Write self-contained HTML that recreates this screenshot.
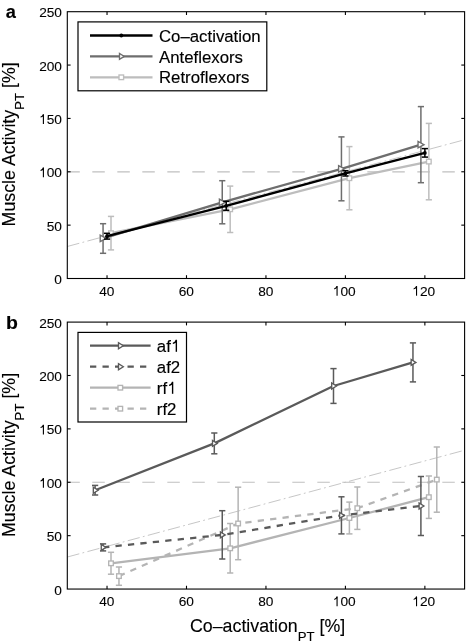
<!DOCTYPE html>
<html><head><meta charset="utf-8"><style>
html,body{margin:0;padding:0;background:#fff;width:466px;height:644px;overflow:hidden}
svg{display:block;filter:grayscale(1)}
text{font-family:"Liberation Sans", sans-serif;stroke:#000;stroke-width:0.15px}
text.t{stroke-width:0.1px}
text.al{stroke-width:0.12px}
</style></head><body>
<svg width="466" height="644" viewBox="0 0 466 644" font-family='"Liberation Sans", sans-serif' fill="#000">
<rect width="466" height="644" fill="#fff"/>
<line x1="67.30" y1="246.48" x2="464.60" y2="139.76" stroke="#c0c0c0" stroke-width="0.9" stroke-dasharray="12.4 3.3 1.8 3.34"/>
<line x1="67.30" y1="171.78" x2="464.60" y2="171.78" stroke="#c0c0c0" stroke-width="1.2" stroke-dasharray="12.5 12.5"/>
<line x1="111.00" y1="249.90" x2="111.00" y2="216.40" stroke="#bdbdbd" stroke-width="1.5" />
<line x1="107.90" y1="249.90" x2="114.10" y2="249.90" stroke="#bdbdbd" stroke-width="1.5" />
<line x1="107.90" y1="216.40" x2="114.10" y2="216.40" stroke="#bdbdbd" stroke-width="1.5" />
<line x1="230.19" y1="232.50" x2="230.19" y2="186.10" stroke="#bdbdbd" stroke-width="1.5" />
<line x1="227.09" y1="232.50" x2="233.29" y2="232.50" stroke="#bdbdbd" stroke-width="1.5" />
<line x1="227.09" y1="186.10" x2="233.29" y2="186.10" stroke="#bdbdbd" stroke-width="1.5" />
<line x1="349.38" y1="209.80" x2="349.38" y2="146.60" stroke="#bdbdbd" stroke-width="1.5" />
<line x1="346.28" y1="209.80" x2="352.48" y2="209.80" stroke="#bdbdbd" stroke-width="1.5" />
<line x1="346.28" y1="146.60" x2="352.48" y2="146.60" stroke="#bdbdbd" stroke-width="1.5" />
<line x1="428.84" y1="199.80" x2="428.84" y2="123.40" stroke="#bdbdbd" stroke-width="1.5" />
<line x1="425.74" y1="199.80" x2="431.94" y2="199.80" stroke="#bdbdbd" stroke-width="1.5" />
<line x1="425.74" y1="123.40" x2="431.94" y2="123.40" stroke="#bdbdbd" stroke-width="1.5" />
<polyline points="111.00,233.20 230.19,209.30 349.38,178.20 428.84,161.60" fill="none" stroke="#bdbdbd" stroke-width="2.3" stroke-linejoin="round" />
<rect x="108.70" y="230.90" width="4.60" height="4.60" fill="#fff" stroke="#bdbdbd" stroke-width="1.35"/>
<rect x="227.89" y="207.00" width="4.60" height="4.60" fill="#fff" stroke="#bdbdbd" stroke-width="1.35"/>
<rect x="347.08" y="175.90" width="4.60" height="4.60" fill="#fff" stroke="#bdbdbd" stroke-width="1.35"/>
<rect x="426.54" y="159.30" width="4.60" height="4.60" fill="#fff" stroke="#bdbdbd" stroke-width="1.35"/>
<line x1="103.06" y1="253.30" x2="103.06" y2="223.70" stroke="#6e6e6e" stroke-width="1.5" />
<line x1="99.96" y1="253.30" x2="106.16" y2="253.30" stroke="#6e6e6e" stroke-width="1.5" />
<line x1="99.96" y1="223.70" x2="106.16" y2="223.70" stroke="#6e6e6e" stroke-width="1.5" />
<line x1="222.25" y1="223.80" x2="222.25" y2="180.70" stroke="#6e6e6e" stroke-width="1.5" />
<line x1="219.15" y1="223.80" x2="225.35" y2="223.80" stroke="#6e6e6e" stroke-width="1.5" />
<line x1="219.15" y1="180.70" x2="225.35" y2="180.70" stroke="#6e6e6e" stroke-width="1.5" />
<line x1="341.44" y1="200.80" x2="341.44" y2="136.90" stroke="#6e6e6e" stroke-width="1.5" />
<line x1="338.34" y1="200.80" x2="344.54" y2="200.80" stroke="#6e6e6e" stroke-width="1.5" />
<line x1="338.34" y1="136.90" x2="344.54" y2="136.90" stroke="#6e6e6e" stroke-width="1.5" />
<line x1="420.90" y1="182.70" x2="420.90" y2="106.60" stroke="#6e6e6e" stroke-width="1.5" />
<line x1="417.80" y1="182.70" x2="424.00" y2="182.70" stroke="#6e6e6e" stroke-width="1.5" />
<line x1="417.80" y1="106.60" x2="424.00" y2="106.60" stroke="#6e6e6e" stroke-width="1.5" />
<polyline points="103.06,238.40 222.25,202.30 341.44,168.80 420.90,144.70" fill="none" stroke="#6e6e6e" stroke-width="2.3" stroke-linejoin="round" />
<polygon points="100.21,235.20 100.21,241.60 106.16,238.40" fill="#fff" stroke="#6e6e6e" stroke-width="1.35" stroke-linejoin="miter"/>
<polygon points="219.40,199.10 219.40,205.50 225.35,202.30" fill="#fff" stroke="#6e6e6e" stroke-width="1.35" stroke-linejoin="miter"/>
<polygon points="338.59,165.60 338.59,172.00 344.54,168.80" fill="#fff" stroke="#6e6e6e" stroke-width="1.35" stroke-linejoin="miter"/>
<polygon points="418.05,141.50 418.05,147.90 424.00,144.70" fill="#fff" stroke="#6e6e6e" stroke-width="1.35" stroke-linejoin="miter"/>
<line x1="107.03" y1="239.10" x2="107.03" y2="233.30" stroke="#000" stroke-width="1.5" />
<line x1="103.93" y1="239.10" x2="110.13" y2="239.10" stroke="#000" stroke-width="1.5" />
<line x1="103.93" y1="233.30" x2="110.13" y2="233.30" stroke="#000" stroke-width="1.5" />
<line x1="226.22" y1="210.30" x2="226.22" y2="201.30" stroke="#000" stroke-width="1.5" />
<line x1="223.12" y1="210.30" x2="229.32" y2="210.30" stroke="#000" stroke-width="1.5" />
<line x1="223.12" y1="201.30" x2="229.32" y2="201.30" stroke="#000" stroke-width="1.5" />
<line x1="345.41" y1="176.00" x2="345.41" y2="170.70" stroke="#000" stroke-width="1.5" />
<line x1="342.31" y1="176.00" x2="348.51" y2="176.00" stroke="#000" stroke-width="1.5" />
<line x1="342.31" y1="170.70" x2="348.51" y2="170.70" stroke="#000" stroke-width="1.5" />
<line x1="424.87" y1="157.10" x2="424.87" y2="148.60" stroke="#000" stroke-width="1.5" />
<line x1="421.77" y1="157.10" x2="427.97" y2="157.10" stroke="#000" stroke-width="1.5" />
<line x1="421.77" y1="148.60" x2="427.97" y2="148.60" stroke="#000" stroke-width="1.5" />
<polyline points="107.03,236.20 226.22,205.80 345.41,173.40 424.87,152.90" fill="none" stroke="#000" stroke-width="2.3" stroke-linejoin="round" />
<circle cx="107.03" cy="236.20" r="1.9" fill="#000"/>
<circle cx="226.22" cy="205.80" r="1.9" fill="#000"/>
<circle cx="345.41" cy="173.40" r="1.9" fill="#000"/>
<circle cx="424.87" cy="152.90" r="1.9" fill="#000"/>
<rect x="67.30" y="11.70" width="397.30" height="266.80" fill="none" stroke="#000" stroke-width="1.1"/>
<line x1="107.03" y1="278.50" x2="107.03" y2="275.20" stroke="#000" stroke-width="1.1" />
<line x1="107.03" y1="11.70" x2="107.03" y2="15.00" stroke="#000" stroke-width="1.1" />
<text x="99.23" y="295.70" font-size="13.7" class="t">4</text>
<text x="106.73" y="295.70" font-size="13.7" class="t">0</text>
<line x1="186.49" y1="278.50" x2="186.49" y2="275.20" stroke="#000" stroke-width="1.1" />
<line x1="186.49" y1="11.70" x2="186.49" y2="15.00" stroke="#000" stroke-width="1.1" />
<text x="178.69" y="295.70" font-size="13.7" class="t">6</text>
<text x="186.19" y="295.70" font-size="13.7" class="t">0</text>
<line x1="265.95" y1="278.50" x2="265.95" y2="275.20" stroke="#000" stroke-width="1.1" />
<line x1="265.95" y1="11.70" x2="265.95" y2="15.00" stroke="#000" stroke-width="1.1" />
<text x="258.15" y="295.70" font-size="13.7" class="t">8</text>
<text x="265.65" y="295.70" font-size="13.7" class="t">0</text>
<line x1="345.41" y1="278.50" x2="345.41" y2="275.20" stroke="#000" stroke-width="1.1" />
<line x1="345.41" y1="11.70" x2="345.41" y2="15.00" stroke="#000" stroke-width="1.1" />
<path d="M337.07,295.70 L337.07,286.22" stroke="#000" stroke-width="1.12" fill="none"/>
<path d="M337.58,285.95 L336.51,285.95 C336.39,287.18 335.02,288.10 334.19,288.37 L334.19,289.40 C335.29,289.19 336.66,288.37 337.07,287.82 Z" fill="#000"/>
<text x="340.46" y="295.70" font-size="13.7" class="t">0</text>
<text x="347.96" y="295.70" font-size="13.7" class="t">0</text>
<line x1="424.87" y1="278.50" x2="424.87" y2="275.20" stroke="#000" stroke-width="1.1" />
<line x1="424.87" y1="11.70" x2="424.87" y2="15.00" stroke="#000" stroke-width="1.1" />
<path d="M416.53,295.70 L416.53,286.22" stroke="#000" stroke-width="1.12" fill="none"/>
<path d="M417.04,285.95 L415.97,285.95 C415.85,287.18 414.48,288.10 413.65,288.37 L413.65,289.40 C414.75,289.19 416.12,288.37 416.53,287.82 Z" fill="#000"/>
<text x="419.92" y="295.70" font-size="13.7" class="t">2</text>
<text x="427.42" y="295.70" font-size="13.7" class="t">0</text>
<text x="54.30" y="284.00" font-size="13.7" class="t">0</text>
<line x1="67.30" y1="225.14" x2="70.60" y2="225.14" stroke="#000" stroke-width="1.1" />
<line x1="464.60" y1="225.14" x2="461.30" y2="225.14" stroke="#000" stroke-width="1.1" />
<text x="46.80" y="230.64" font-size="13.7" class="t">5</text>
<text x="54.30" y="230.64" font-size="13.7" class="t">0</text>
<line x1="67.30" y1="171.78" x2="70.60" y2="171.78" stroke="#000" stroke-width="1.1" />
<line x1="464.60" y1="171.78" x2="461.30" y2="171.78" stroke="#000" stroke-width="1.1" />
<path d="M43.41,177.28 L43.41,167.80" stroke="#000" stroke-width="1.12" fill="none"/>
<path d="M43.92,167.53 L42.85,167.53 C42.72,168.76 41.35,169.68 40.53,169.95 L40.53,170.98 C41.63,170.77 43.00,169.95 43.41,169.40 Z" fill="#000"/>
<text x="46.80" y="177.28" font-size="13.7" class="t">0</text>
<text x="54.30" y="177.28" font-size="13.7" class="t">0</text>
<line x1="67.30" y1="118.42" x2="70.60" y2="118.42" stroke="#000" stroke-width="1.1" />
<line x1="464.60" y1="118.42" x2="461.30" y2="118.42" stroke="#000" stroke-width="1.1" />
<path d="M43.41,123.92 L43.41,114.44" stroke="#000" stroke-width="1.12" fill="none"/>
<path d="M43.92,114.17 L42.85,114.17 C42.72,115.40 41.35,116.32 40.53,116.59 L40.53,117.62 C41.63,117.41 43.00,116.59 43.41,116.04 Z" fill="#000"/>
<text x="46.80" y="123.92" font-size="13.7" class="t">5</text>
<text x="54.30" y="123.92" font-size="13.7" class="t">0</text>
<line x1="67.30" y1="65.06" x2="70.60" y2="65.06" stroke="#000" stroke-width="1.1" />
<line x1="464.60" y1="65.06" x2="461.30" y2="65.06" stroke="#000" stroke-width="1.1" />
<text x="39.30" y="70.56" font-size="13.7" class="t">2</text>
<text x="46.80" y="70.56" font-size="13.7" class="t">0</text>
<text x="54.30" y="70.56" font-size="13.7" class="t">0</text>
<text x="39.30" y="17.20" font-size="13.7" class="t">2</text>
<text x="46.80" y="17.20" font-size="13.7" class="t">5</text>
<text x="54.30" y="17.20" font-size="13.7" class="t">0</text>
<rect x="78.0" y="21.9" width="188.80" height="68.90" fill="#fff" stroke="#000" stroke-width="1.2"/>
<line x1="90.00" y1="35.50" x2="152.50" y2="35.50" stroke="#000" stroke-width="2.3" />
<circle cx="121.30" cy="35.50" r="1.9" fill="#000"/>
<text x="159.00" y="41.60" font-size="16.8" text-anchor="start" >Co–activation</text>
<line x1="90.00" y1="56.40" x2="152.50" y2="56.40" stroke="#6e6e6e" stroke-width="2.3" />
<polygon points="119.50,53.40 119.50,59.40 124.30,56.40" fill="#fff" stroke="#6e6e6e" stroke-width="1.35" stroke-linejoin="miter"/>
<text x="159.00" y="62.50" font-size="16.8" text-anchor="start" >Anteflexors</text>
<line x1="90.00" y1="77.30" x2="152.50" y2="77.30" stroke="#bdbdbd" stroke-width="2.3" />
<rect x="119.00" y="75.00" width="4.60" height="4.60" fill="#fff" stroke="#bdbdbd" stroke-width="1.35"/>
<text x="159.00" y="83.40" font-size="16.8" text-anchor="start" >Retroflexors</text>
<line x1="67.30" y1="557.02" x2="464.60" y2="450.24" stroke="#c0c0c0" stroke-width="0.9" stroke-dasharray="12.4 3.3 1.8 3.34"/>
<line x1="67.30" y1="482.27" x2="464.60" y2="482.27" stroke="#c0c0c0" stroke-width="1.2" stroke-dasharray="12.5 12.5"/>
<line x1="118.95" y1="585.30" x2="118.95" y2="567.00" stroke="#b4b4b4" stroke-width="1.5" />
<line x1="115.85" y1="585.30" x2="122.05" y2="585.30" stroke="#b4b4b4" stroke-width="1.5" />
<line x1="115.85" y1="567.00" x2="122.05" y2="567.00" stroke="#b4b4b4" stroke-width="1.5" />
<line x1="238.14" y1="559.70" x2="238.14" y2="487.20" stroke="#b4b4b4" stroke-width="1.5" />
<line x1="235.04" y1="559.70" x2="241.24" y2="559.70" stroke="#b4b4b4" stroke-width="1.5" />
<line x1="235.04" y1="487.20" x2="241.24" y2="487.20" stroke="#b4b4b4" stroke-width="1.5" />
<line x1="357.33" y1="529.40" x2="357.33" y2="487.00" stroke="#b4b4b4" stroke-width="1.5" />
<line x1="354.23" y1="529.40" x2="360.43" y2="529.40" stroke="#b4b4b4" stroke-width="1.5" />
<line x1="354.23" y1="487.00" x2="360.43" y2="487.00" stroke="#b4b4b4" stroke-width="1.5" />
<line x1="436.79" y1="512.20" x2="436.79" y2="447.00" stroke="#b4b4b4" stroke-width="1.5" />
<line x1="433.69" y1="512.20" x2="439.89" y2="512.20" stroke="#b4b4b4" stroke-width="1.5" />
<line x1="433.69" y1="447.00" x2="439.89" y2="447.00" stroke="#b4b4b4" stroke-width="1.5" />
<polyline points="118.95,576.10 238.14,523.50 357.33,508.20 436.79,479.60" fill="none" stroke="#b4b4b4" stroke-width="2.3" stroke-linejoin="round" stroke-dasharray="6.3 6.2"/>
<rect x="116.65" y="573.80" width="4.60" height="4.60" fill="#fff" stroke="#b4b4b4" stroke-width="1.35"/>
<rect x="235.84" y="521.20" width="4.60" height="4.60" fill="#fff" stroke="#b4b4b4" stroke-width="1.35"/>
<rect x="355.03" y="505.90" width="4.60" height="4.60" fill="#fff" stroke="#b4b4b4" stroke-width="1.35"/>
<rect x="434.49" y="477.30" width="4.60" height="4.60" fill="#fff" stroke="#b4b4b4" stroke-width="1.35"/>
<line x1="111.00" y1="574.20" x2="111.00" y2="552.30" stroke="#b4b4b4" stroke-width="1.5" />
<line x1="107.90" y1="574.20" x2="114.10" y2="574.20" stroke="#b4b4b4" stroke-width="1.5" />
<line x1="107.90" y1="552.30" x2="114.10" y2="552.30" stroke="#b4b4b4" stroke-width="1.5" />
<line x1="230.19" y1="573.00" x2="230.19" y2="523.50" stroke="#b4b4b4" stroke-width="1.5" />
<line x1="227.09" y1="573.00" x2="233.29" y2="573.00" stroke="#b4b4b4" stroke-width="1.5" />
<line x1="227.09" y1="523.50" x2="233.29" y2="523.50" stroke="#b4b4b4" stroke-width="1.5" />
<line x1="349.38" y1="533.90" x2="349.38" y2="502.10" stroke="#b4b4b4" stroke-width="1.5" />
<line x1="346.28" y1="533.90" x2="352.48" y2="533.90" stroke="#b4b4b4" stroke-width="1.5" />
<line x1="346.28" y1="502.10" x2="352.48" y2="502.10" stroke="#b4b4b4" stroke-width="1.5" />
<line x1="428.84" y1="518.40" x2="428.84" y2="476.00" stroke="#b4b4b4" stroke-width="1.5" />
<line x1="425.74" y1="518.40" x2="431.94" y2="518.40" stroke="#b4b4b4" stroke-width="1.5" />
<line x1="425.74" y1="476.00" x2="431.94" y2="476.00" stroke="#b4b4b4" stroke-width="1.5" />
<polyline points="111.00,563.30 230.19,548.30 349.38,518.00 428.84,497.20" fill="none" stroke="#b4b4b4" stroke-width="2.3" stroke-linejoin="round" />
<rect x="108.70" y="561.00" width="4.60" height="4.60" fill="#fff" stroke="#b4b4b4" stroke-width="1.35"/>
<rect x="227.89" y="546.00" width="4.60" height="4.60" fill="#fff" stroke="#b4b4b4" stroke-width="1.35"/>
<rect x="347.08" y="515.70" width="4.60" height="4.60" fill="#fff" stroke="#b4b4b4" stroke-width="1.35"/>
<rect x="426.54" y="494.90" width="4.60" height="4.60" fill="#fff" stroke="#b4b4b4" stroke-width="1.35"/>
<line x1="103.06" y1="550.90" x2="103.06" y2="543.90" stroke="#5a5a5a" stroke-width="1.5" />
<line x1="99.96" y1="550.90" x2="106.16" y2="550.90" stroke="#5a5a5a" stroke-width="1.5" />
<line x1="99.96" y1="543.90" x2="106.16" y2="543.90" stroke="#5a5a5a" stroke-width="1.5" />
<line x1="222.25" y1="559.00" x2="222.25" y2="510.70" stroke="#5a5a5a" stroke-width="1.5" />
<line x1="219.15" y1="559.00" x2="225.35" y2="559.00" stroke="#5a5a5a" stroke-width="1.5" />
<line x1="219.15" y1="510.70" x2="225.35" y2="510.70" stroke="#5a5a5a" stroke-width="1.5" />
<line x1="341.44" y1="533.90" x2="341.44" y2="496.80" stroke="#5a5a5a" stroke-width="1.5" />
<line x1="338.34" y1="533.90" x2="344.54" y2="533.90" stroke="#5a5a5a" stroke-width="1.5" />
<line x1="338.34" y1="496.80" x2="344.54" y2="496.80" stroke="#5a5a5a" stroke-width="1.5" />
<line x1="420.90" y1="535.50" x2="420.90" y2="476.50" stroke="#5a5a5a" stroke-width="1.5" />
<line x1="417.80" y1="535.50" x2="424.00" y2="535.50" stroke="#5a5a5a" stroke-width="1.5" />
<line x1="417.80" y1="476.50" x2="424.00" y2="476.50" stroke="#5a5a5a" stroke-width="1.5" />
<polyline points="103.06,547.40 222.25,534.90 341.44,515.40 420.90,506.00" fill="none" stroke="#5a5a5a" stroke-width="2.3" stroke-linejoin="round" stroke-dasharray="6.3 6.2"/>
<polygon points="101.26,544.40 101.26,550.40 106.06,547.40" fill="#fff" stroke="#5a5a5a" stroke-width="1.35" stroke-linejoin="miter"/>
<polygon points="220.45,531.90 220.45,537.90 225.25,534.90" fill="#fff" stroke="#5a5a5a" stroke-width="1.35" stroke-linejoin="miter"/>
<polygon points="339.64,512.40 339.64,518.40 344.44,515.40" fill="#fff" stroke="#5a5a5a" stroke-width="1.35" stroke-linejoin="miter"/>
<polygon points="419.10,503.00 419.10,509.00 423.90,506.00" fill="#fff" stroke="#5a5a5a" stroke-width="1.35" stroke-linejoin="miter"/>
<line x1="95.11" y1="495.00" x2="95.11" y2="485.40" stroke="#5a5a5a" stroke-width="1.5" />
<line x1="92.01" y1="495.00" x2="98.21" y2="495.00" stroke="#5a5a5a" stroke-width="1.5" />
<line x1="92.01" y1="485.40" x2="98.21" y2="485.40" stroke="#5a5a5a" stroke-width="1.5" />
<line x1="214.30" y1="453.80" x2="214.30" y2="433.00" stroke="#5a5a5a" stroke-width="1.5" />
<line x1="211.20" y1="453.80" x2="217.40" y2="453.80" stroke="#5a5a5a" stroke-width="1.5" />
<line x1="211.20" y1="433.00" x2="217.40" y2="433.00" stroke="#5a5a5a" stroke-width="1.5" />
<line x1="333.49" y1="403.40" x2="333.49" y2="368.60" stroke="#5a5a5a" stroke-width="1.5" />
<line x1="330.39" y1="403.40" x2="336.59" y2="403.40" stroke="#5a5a5a" stroke-width="1.5" />
<line x1="330.39" y1="368.60" x2="336.59" y2="368.60" stroke="#5a5a5a" stroke-width="1.5" />
<line x1="412.95" y1="381.90" x2="412.95" y2="342.90" stroke="#5a5a5a" stroke-width="1.5" />
<line x1="409.85" y1="381.90" x2="416.05" y2="381.90" stroke="#5a5a5a" stroke-width="1.5" />
<line x1="409.85" y1="342.90" x2="416.05" y2="342.90" stroke="#5a5a5a" stroke-width="1.5" />
<polyline points="95.11,490.20 214.30,443.40 333.49,386.00 412.95,362.40" fill="none" stroke="#5a5a5a" stroke-width="2.3" stroke-linejoin="round" />
<polygon points="93.31,487.20 93.31,493.20 98.11,490.20" fill="#fff" stroke="#5a5a5a" stroke-width="1.35" stroke-linejoin="miter"/>
<polygon points="212.50,440.40 212.50,446.40 217.30,443.40" fill="#fff" stroke="#5a5a5a" stroke-width="1.35" stroke-linejoin="miter"/>
<polygon points="331.69,383.00 331.69,389.00 336.49,386.00" fill="#fff" stroke="#5a5a5a" stroke-width="1.35" stroke-linejoin="miter"/>
<polygon points="411.15,359.40 411.15,365.40 415.95,362.40" fill="#fff" stroke="#5a5a5a" stroke-width="1.35" stroke-linejoin="miter"/>
<rect x="67.30" y="322.10" width="397.30" height="266.95" fill="none" stroke="#000" stroke-width="1.1"/>
<line x1="107.03" y1="589.05" x2="107.03" y2="585.75" stroke="#000" stroke-width="1.1" />
<line x1="107.03" y1="322.10" x2="107.03" y2="325.40" stroke="#000" stroke-width="1.1" />
<text x="99.23" y="606.25" font-size="13.7" class="t">4</text>
<text x="106.73" y="606.25" font-size="13.7" class="t">0</text>
<line x1="186.49" y1="589.05" x2="186.49" y2="585.75" stroke="#000" stroke-width="1.1" />
<line x1="186.49" y1="322.10" x2="186.49" y2="325.40" stroke="#000" stroke-width="1.1" />
<text x="178.69" y="606.25" font-size="13.7" class="t">6</text>
<text x="186.19" y="606.25" font-size="13.7" class="t">0</text>
<line x1="265.95" y1="589.05" x2="265.95" y2="585.75" stroke="#000" stroke-width="1.1" />
<line x1="265.95" y1="322.10" x2="265.95" y2="325.40" stroke="#000" stroke-width="1.1" />
<text x="258.15" y="606.25" font-size="13.7" class="t">8</text>
<text x="265.65" y="606.25" font-size="13.7" class="t">0</text>
<line x1="345.41" y1="589.05" x2="345.41" y2="585.75" stroke="#000" stroke-width="1.1" />
<line x1="345.41" y1="322.10" x2="345.41" y2="325.40" stroke="#000" stroke-width="1.1" />
<path d="M337.07,606.25 L337.07,596.77" stroke="#000" stroke-width="1.12" fill="none"/>
<path d="M337.58,596.50 L336.51,596.50 C336.39,597.73 335.02,598.65 334.19,598.92 L334.19,599.95 C335.29,599.74 336.66,598.92 337.07,598.37 Z" fill="#000"/>
<text x="340.46" y="606.25" font-size="13.7" class="t">0</text>
<text x="347.96" y="606.25" font-size="13.7" class="t">0</text>
<line x1="424.87" y1="589.05" x2="424.87" y2="585.75" stroke="#000" stroke-width="1.1" />
<line x1="424.87" y1="322.10" x2="424.87" y2="325.40" stroke="#000" stroke-width="1.1" />
<path d="M416.53,606.25 L416.53,596.77" stroke="#000" stroke-width="1.12" fill="none"/>
<path d="M417.04,596.50 L415.97,596.50 C415.85,597.73 414.48,598.65 413.65,598.92 L413.65,599.95 C414.75,599.74 416.12,598.92 416.53,598.37 Z" fill="#000"/>
<text x="419.92" y="606.25" font-size="13.7" class="t">2</text>
<text x="427.42" y="606.25" font-size="13.7" class="t">0</text>
<text x="54.30" y="594.55" font-size="13.7" class="t">0</text>
<line x1="67.30" y1="535.66" x2="70.60" y2="535.66" stroke="#000" stroke-width="1.1" />
<line x1="464.60" y1="535.66" x2="461.30" y2="535.66" stroke="#000" stroke-width="1.1" />
<text x="46.80" y="541.16" font-size="13.7" class="t">5</text>
<text x="54.30" y="541.16" font-size="13.7" class="t">0</text>
<line x1="67.30" y1="482.27" x2="70.60" y2="482.27" stroke="#000" stroke-width="1.1" />
<line x1="464.60" y1="482.27" x2="461.30" y2="482.27" stroke="#000" stroke-width="1.1" />
<path d="M43.41,487.77 L43.41,478.29" stroke="#000" stroke-width="1.12" fill="none"/>
<path d="M43.92,478.02 L42.85,478.02 C42.72,479.25 41.35,480.17 40.53,480.44 L40.53,481.47 C41.63,481.26 43.00,480.44 43.41,479.89 Z" fill="#000"/>
<text x="46.80" y="487.77" font-size="13.7" class="t">0</text>
<text x="54.30" y="487.77" font-size="13.7" class="t">0</text>
<line x1="67.30" y1="428.88" x2="70.60" y2="428.88" stroke="#000" stroke-width="1.1" />
<line x1="464.60" y1="428.88" x2="461.30" y2="428.88" stroke="#000" stroke-width="1.1" />
<path d="M43.41,434.38 L43.41,424.90" stroke="#000" stroke-width="1.12" fill="none"/>
<path d="M43.92,424.63 L42.85,424.63 C42.72,425.86 41.35,426.78 40.53,427.05 L40.53,428.08 C41.63,427.87 43.00,427.05 43.41,426.50 Z" fill="#000"/>
<text x="46.80" y="434.38" font-size="13.7" class="t">5</text>
<text x="54.30" y="434.38" font-size="13.7" class="t">0</text>
<line x1="67.30" y1="375.49" x2="70.60" y2="375.49" stroke="#000" stroke-width="1.1" />
<line x1="464.60" y1="375.49" x2="461.30" y2="375.49" stroke="#000" stroke-width="1.1" />
<text x="39.30" y="380.99" font-size="13.7" class="t">2</text>
<text x="46.80" y="380.99" font-size="13.7" class="t">0</text>
<text x="54.30" y="380.99" font-size="13.7" class="t">0</text>
<text x="39.30" y="327.60" font-size="13.7" class="t">2</text>
<text x="46.80" y="327.60" font-size="13.7" class="t">5</text>
<text x="54.30" y="327.60" font-size="13.7" class="t">0</text>
<rect x="78.0" y="332.4" width="108.50" height="89.60" fill="#fff" stroke="#000" stroke-width="1.2"/>
<line x1="90.00" y1="345.70" x2="150.60" y2="345.70" stroke="#5a5a5a" stroke-width="2.3" />
<polygon points="118.50,342.70 118.50,348.70 123.30,345.70" fill="#fff" stroke="#5a5a5a" stroke-width="1.35" stroke-linejoin="miter"/>
<text x="156.80" y="351.80" font-size="16.8" text-anchor="start" >af</text>
<path d="M176.35,351.80 L176.35,340.17" stroke="#000" stroke-width="1.38" fill="none"/>
<path d="M176.97,339.84 L175.66,339.84 C175.51,341.35 173.83,342.48 172.82,342.81 L172.82,344.07 C174.17,343.82 175.85,342.81 176.35,342.14 Z" fill="#000"/>
<line x1="90.00" y1="366.70" x2="150.60" y2="366.70" stroke="#5a5a5a" stroke-width="2.3" stroke-dasharray="6.3 6.2"/>
<polygon points="118.50,363.70 118.50,369.70 123.30,366.70" fill="#fff" stroke="#5a5a5a" stroke-width="1.35" stroke-linejoin="miter"/>
<text x="156.80" y="372.80" font-size="16.8" text-anchor="start" >af</text>
<text x="170.81" y="372.80" font-size="16.8" text-anchor="start" >2</text>
<line x1="90.00" y1="387.70" x2="150.60" y2="387.70" stroke="#b4b4b4" stroke-width="2.3" />
<rect x="118.00" y="385.40" width="4.60" height="4.60" fill="#fff" stroke="#b4b4b4" stroke-width="1.35"/>
<text x="156.80" y="393.80" font-size="16.8" text-anchor="start" >rf</text>
<path d="M172.60,393.80 L172.60,382.17" stroke="#000" stroke-width="1.38" fill="none"/>
<path d="M173.22,381.84 L171.92,381.84 C171.76,383.35 170.08,384.48 169.08,384.81 L169.08,386.07 C170.42,385.82 172.10,384.81 172.60,384.14 Z" fill="#000"/>
<line x1="90.00" y1="408.70" x2="150.60" y2="408.70" stroke="#b4b4b4" stroke-width="2.3" stroke-dasharray="6.3 6.2"/>
<rect x="118.00" y="406.40" width="4.60" height="4.60" fill="#fff" stroke="#b4b4b4" stroke-width="1.35"/>
<text x="156.80" y="414.80" font-size="16.8" text-anchor="start" >rf</text>
<text x="167.06" y="414.80" font-size="16.8" text-anchor="start" >2</text>
<text x="5.70" y="17.60" font-size="18.2" text-anchor="start" font-weight="bold">a</text>
<text transform="translate(5.9,329.2) scale(1,0.93)" font-size="19.5" font-weight="bold">b</text>
<text transform="translate(15.2,226.40) rotate(-90)" font-size="17.8" class="al">Muscle Activity<tspan font-size="13.2" dy="9">PT</tspan><tspan dy="-9"> [%]</tspan></text>
<text transform="translate(15.2,537.00) rotate(-90)" font-size="17.8" class="al">Muscle Activity<tspan font-size="13.2" dy="9">PT</tspan><tspan dy="-9"> [%]</tspan></text>
<text x="190.0" y="631.8" font-size="17.8" class="al">Co–activation<tspan font-size="13.2" dy="9">PT</tspan><tspan dy="-9"> [%]</tspan></text>
</svg>
</body></html>
